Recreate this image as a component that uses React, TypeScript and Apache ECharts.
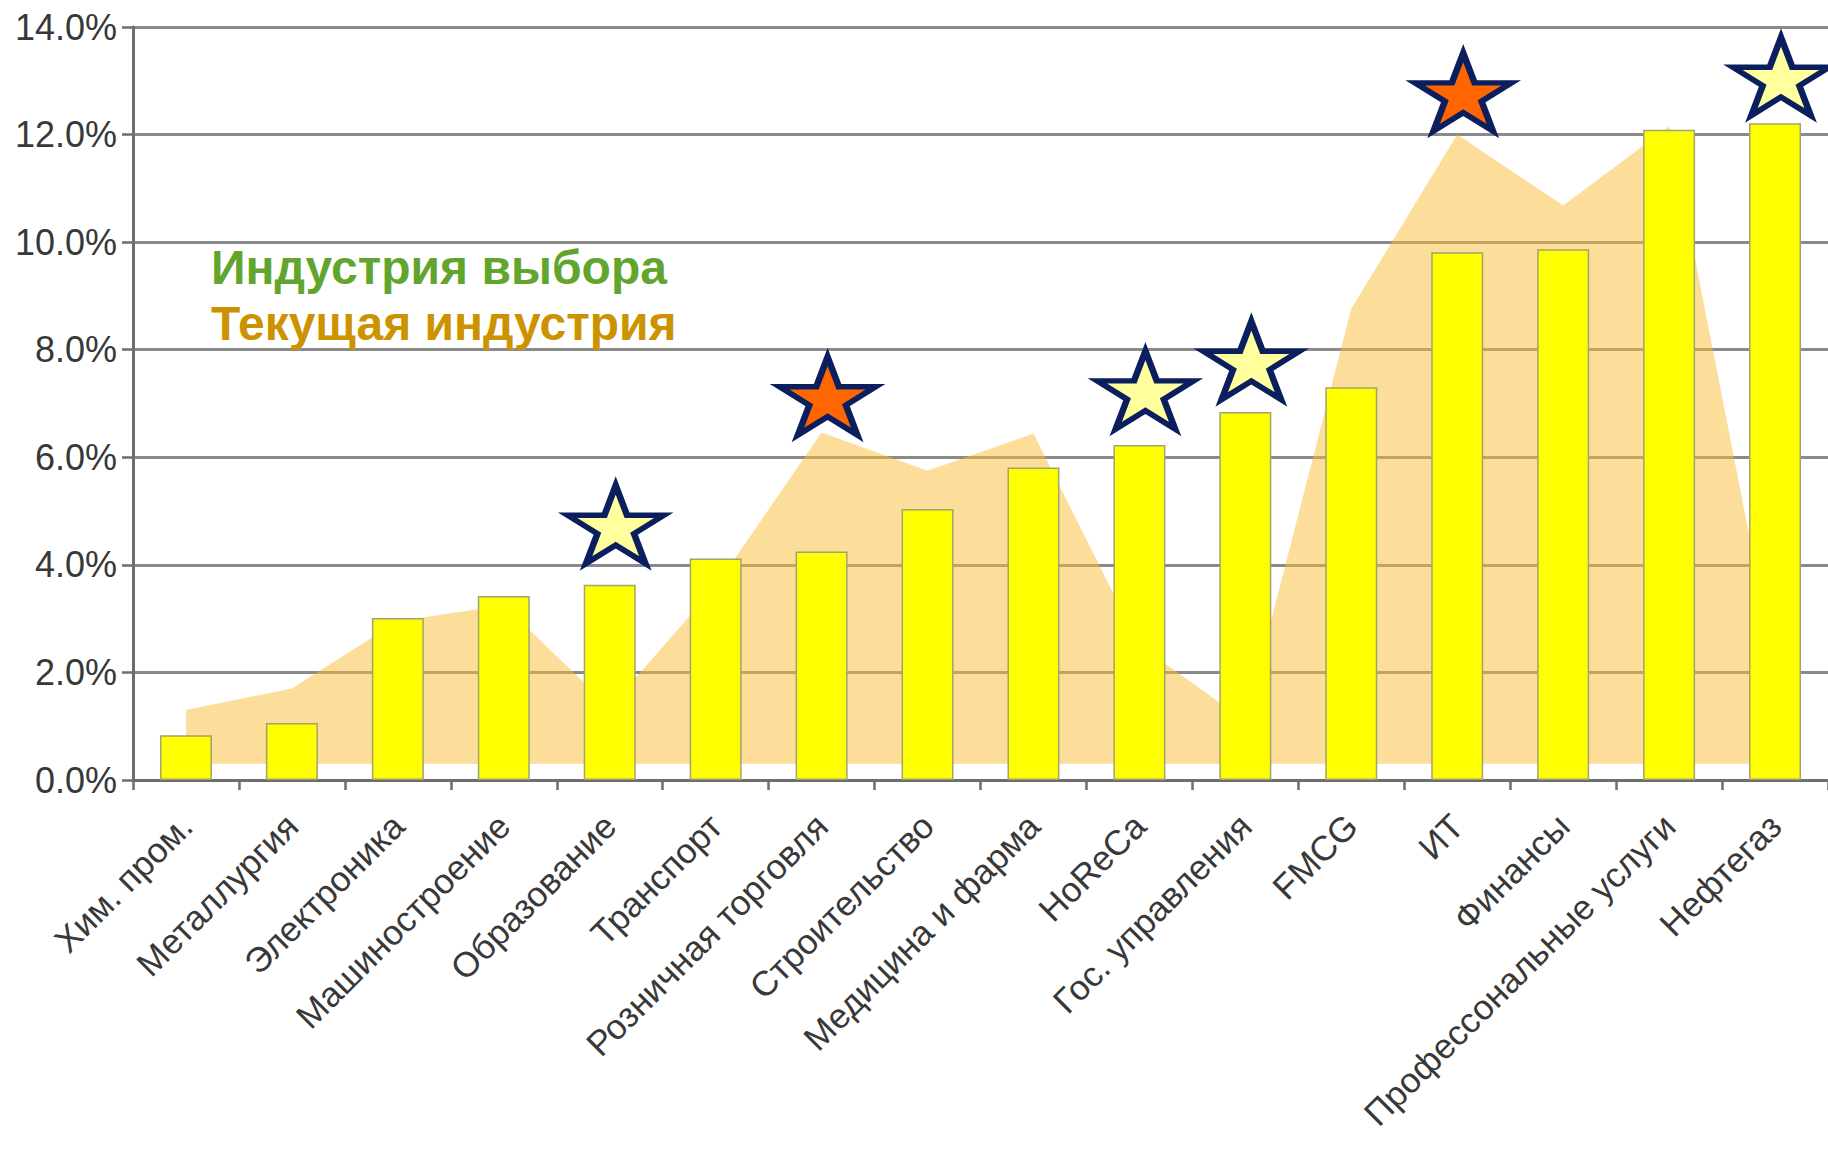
import React, { useEffect, useRef } from "react";
import * as echarts from "echarts";

const categories = [
  "Хим. пром.",
  "Металлургия",
  "Электроника",
  "Машиностроение",
  "Образование",
  "Транспорт",
  "Розничная торговля",
  "Строительство",
  "Медицина и фарма",
  "HoReCa",
  "Гос. управления",
  "FMCG",
  "ИТ",
  "Финансы",
  "Профессональные услуги",
  "Нефтегаз",
];

// "Индустрия выбора" (bars)
const choiceValues = [0.83, 1.06, 3.01, 3.42, 3.63, 4.12, 4.25, 5.04, 5.81, 6.23, 6.84, 7.3, 9.81, 9.87, 12.09, 12.21];

// "Текущая индустрия" (area)
const currentValues = [1.3, 1.7, 2.95, 3.25, 1.35, 3.6, 6.46, 5.75, 6.44, 2.5, 1.1, 8.76, 12.0, 10.68, 12.15, 2.1];
const areaBase = 0.3;

// Star markers
const starCategories = ["Образование", "Розничная торговля", "HoReCa", "Гос. управления", "ИТ", "Нефтегаз"];
const starValues = [4.75, 7.14, 7.25, 7.8, 12.79, 13.08];
const starKinds = ["light", "orange", "light", "light", "orange", "light"];

const yTicks = { min: 0, max: 14, interval: 2 };

const legendLines = ["Индустрия выбора", "Текущая индустрия"];

function starPath(): string {
  const pts: string[] = [];
  const R = 50;
  const r = 19.1;
  for (let k = 0; k < 10; k++) {
    const ang = (-90 + k * 36) * (Math.PI / 180);
    const rad = k % 2 === 0 ? R : r;
    const x = 50 + rad * Math.cos(ang);
    const y = 50 + rad * Math.sin(ang);
    pts.push(`${k === 0 ? "M" : "L"}${x.toFixed(2)} ${y.toFixed(2)}`);
  }
  return "path://" + pts.join(" ") + " Z";
}

export default function App() {
  const ref = useRef<HTMLDivElement>(null);

  useEffect(() => {
    if (!ref.current) return;
    const chart = echarts.init(ref.current, undefined, { renderer: "svg" });
    const font = "Liberation Sans";
    const star = starPath();

    chart.setOption({
      animation: false,
      backgroundColor: "#ffffff",
      textStyle: { fontFamily: font },
      grid: { left: 133, right: 0, top: 27, bottom: 376, containLabel: false },
      xAxis: {
        type: "category",
        data: categories,
        boundaryGap: true,
        axisLine: { show: true, lineStyle: { color: "#6e6e6e", width: 3 } },
        axisTick: { show: true, length: 10, interval: 0, lineStyle: { color: "#6e6e6e", width: 2.5 } },
        axisLabel: {
          interval: 0,
          rotate: 45,
          margin: 40,
          fontSize: 35,
          color: "#383838",
          fontFamily: font,
        },
        splitLine: { show: false },
      },
      yAxis: {
        type: "value",
        min: yTicks.min,
        max: yTicks.max,
        interval: yTicks.interval,
        axisLine: { show: true, lineStyle: { color: "#6e6e6e", width: 3 } },
        axisTick: { show: true, length: 11, lineStyle: { color: "#6e6e6e", width: 2.5 } },
        axisLabel: {
          margin: 16,
          fontSize: 36,
          color: "#383838",
          fontFamily: font,
          formatter: (v: number) => v.toFixed(1) + "%",
        },
        splitLine: { show: true, lineStyle: { color: "#8a8a8a", width: 3 } },
      },
      series: [
        {
          name: "Текущая индустрия",
          type: "line",
          data: currentValues,
          symbol: "none",
          z: 1,
          lineStyle: { width: 0, opacity: 0 },
          areaStyle: { color: "rgba(249, 188, 52, 0.5)", opacity: 1, origin: areaBase },
          silent: true,
        },
        {
          name: "Индустрия выбора",
          type: "bar",
          data: choiceValues,
          barWidth: 52,
          z: 2,
          itemStyle: { color: "#ffff00", borderColor: "#a3a36e", borderWidth: 1.5 },
        },
        {
          name: "stars",
          type: "scatter",
          z: 3,
          clip: false,
          symbol: star,
          symbolSize: [96, 78],
          symbolOffset: [6, 0],
          data: starCategories.map((c, i) => ({
            value: [c, starValues[i]],
            itemStyle: {
              color: starKinds[i] === "orange" ? "#ff6600" : "#ffff9e",
              borderColor: "#0b1f5e",
              borderWidth: 6,
              borderJoin: "miter",
              borderMiterLimit: 10,
              opacity: 1,
            },
          })),
        },
      ],
      graphic: [
        {
          type: "text",
          x: 211,
          y: 267,
          z: 10,
          style: {
            text: legendLines[0],
            font: `bold 48px "${font}"`,
            fill: "#62a52e",
            textAlign: "left",
            textVerticalAlign: "middle",
          },
        },
        {
          type: "text",
          x: 211,
          y: 323,
          z: 10,
          style: {
            text: legendLines[1],
            font: `bold 48px "${font}"`,
            fill: "#cc9200",
            textAlign: "left",
            textVerticalAlign: "middle",
          },
        },
      ],
    });

    return () => chart.dispose();
  }, []);

  return (
    <div
      ref={ref}
      style={{ position: "fixed", left: 0, top: 0, width: 1828, height: 1156, background: "#fff" }}
    />
  );
}
